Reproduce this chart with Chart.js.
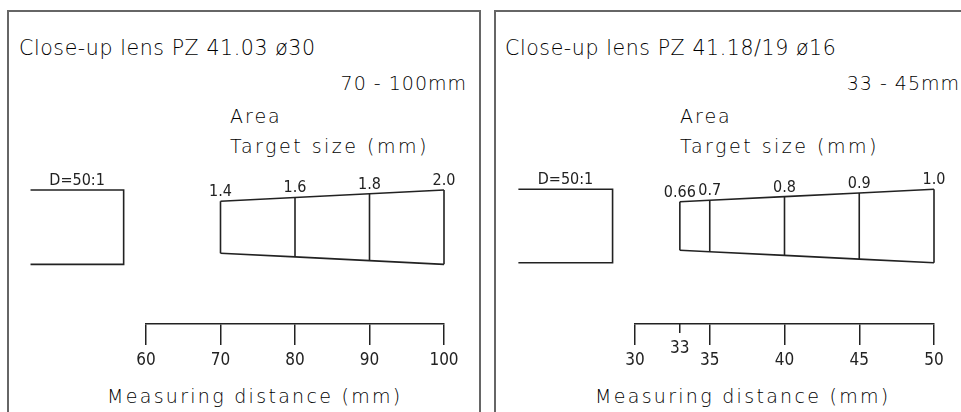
<!DOCTYPE html>
<html>
<head>
<meta charset="utf-8">
<script src="https://cdn.jsdelivr.net/npm/chart.js@4.4.1/dist/chart.umd.min.js"></script>
<style>
  body { margin: 0; background: #fff; }
  #wrap { position: relative; width: 961px; height: 412px; overflow: hidden; }
  .panel { position: absolute; top: 10px; height: 420px; border: 2px solid #666; box-sizing: border-box; }
  #p1 { left: 7px; width: 474px; }
  #p2 { left: 494px; width: 480px; }
  canvas { position: absolute; top: 0; }
  .txt { position: absolute; font-family: "DejaVu Sans"; font-weight: 200; color: #000; white-space: nowrap; line-height: 24px; font-size: 19px; }
</style>
</head>
<body>
<div id="wrap">
  <div class="panel" id="p1"></div>
  <div class="panel" id="p2"></div>

  <div class="txt" style="left:19px; top:36px; font-size:20.5px; letter-spacing:0.6px">Close-up lens PZ 41.03 ø30</div>
  <div class="txt" style="right:494px; top:71px; letter-spacing:1px">70 - 100mm</div>
  <div class="txt" style="left:230px; top:104px; letter-spacing:2px">Area</div>
  <div class="txt" style="left:230px; top:134px; letter-spacing:2.5px">Target size (mm)</div>
  <div class="txt" style="left:107px; top:384px; letter-spacing:2.3px">Measuring distance (mm)</div>

  <div class="txt" style="left:505px; top:36px; font-size:20.5px; letter-spacing:0.6px">Close-up lens PZ 41.18/19 ø16</div>
  <div class="txt" style="right:1px; top:71px; letter-spacing:1px">33 - 45mm</div>
  <div class="txt" style="left:680px; top:104px; letter-spacing:2px">Area</div>
  <div class="txt" style="left:680px; top:134px; letter-spacing:2.5px">Target size (mm)</div>
  <div class="txt" style="left:595px; top:384px; letter-spacing:2.3px">Measuring distance (mm)</div>

  <canvas id="c1" width="481" height="412" style="left:0"></canvas>
  <canvas id="c2" width="480" height="412" style="left:481px"></canvas>
</div>
<script>
// lens PZ 41.03 ø30
const dist1 = [70, 80, 90, 100];
const size1 = [1.4, 1.6, 1.8, 2.0];
const ticks1 = [60, 70, 80, 90, 100];
const sensor1 = [44.5, 57];

// lens PZ 41.18/19 ø16
const dist2 = [33, 35, 40, 45, 50];
const size2 = [0.66, 0.7, 0.8, 0.9, 1.0];
const ticks2 = [30, 35, 40, 45, 50];
const minorTicks2 = [33];
const sensor2 = [22.2, 28.5];

const ratioLabel = 'D=50:1';

const ink = '#222';
const digitFont = '"DejaVu Sans Condensed", "Liberation Sans Narrow", "DejaVu Sans"';

function fmt(v) {
  return v.toFixed(Math.round(v * 100) % 10 ? 2 : 1);
}

// top edge, bottom edge and the verticals of the target area
function areaSets(dist, size, sensor) {
  const top = dist.map((d, i) => ({x: d, y: size[i] / 2}));
  const bottom = dist.map((d, i) => ({x: d, y: -size[i] / 2}));
  const sides = [];
  dist.forEach((d, i) => {
    sides.push({x: d, y: -size[i] / 2}, {x: d, y: size[i] / 2}, {x: d, y: null});
  });
  const h = Math.max(...size) / 2;
  const box = [
    {x: sensor[0], y: h}, {x: sensor[1], y: h},
    {x: sensor[1], y: -h}, {x: sensor[0], y: -h}
  ];
  return [top, bottom, sides, box].map(d => ({data: d, clip: false}));
}

function labelPlugin(dist, size, sensor) {
  return {
    id: 'valueLabels',
    afterDatasetsDraw(chart) {
      const {ctx, scales: {x, y}} = chart;
      ctx.save();
      ctx.fillStyle = ink;
      ctx.font = '16px ' + digitFont;
      ctx.textAlign = 'center';
      ctx.textBaseline = 'alphabetic';
      dist.forEach((d, i) => {
        ctx.fillText(fmt(size[i]), x.getPixelForValue(d), y.getPixelForValue(size[i] / 2) - 5);
      });
      const h = Math.max(...size) / 2;
      const cx = (x.getPixelForValue(sensor[0]) + x.getPixelForValue(sensor[1])) / 2;
      ctx.fillText(ratioLabel, cx, y.getPixelForValue(h) - 5);
      ctx.restore();
    }
  };
}

function makeChart(id, o) {
  const scales = {
    x: {
      type: 'linear', min: o.ticks[0], max: o.ticks[o.ticks.length - 1],
      afterBuildTicks: s => { s.ticks = o.ticks.map(v => ({value: v})); },
      afterFit: s => { s.height = 88; },
      grid: {drawOnChartArea: false, tickLength: 21, color: ink, lineWidth: 1.5},
      border: {color: ink, width: 1.5},
      ticks: {color: ink, font: {family: digitFont, size: 17}, padding: 5, maxRotation: 0, autoSkip: false}
    },
    y: {type: 'linear', display: false, min: o.yMin, max: o.yMax}
  };
  if (o.minor) {
    scales.xm = {
      axis: 'x', type: 'linear', position: {y: o.yMin},
      min: o.ticks[0], max: o.ticks[o.ticks.length - 1],
      afterBuildTicks: s => { s.ticks = o.minor.map(v => ({value: v})); },
      grid: {drawOnChartArea: false, tickLength: 9, color: ink, lineWidth: 1.5},
      border: {display: false},
      ticks: {color: ink, font: {family: digitFont, size: 17}, padding: 5, maxRotation: 0, autoSkip: false}
    };
  }
  return new Chart(document.getElementById(id), {
    type: 'line',
    data: {datasets: areaSets(o.dist, o.size, o.sensor)},
    options: {
      responsive: false,
      animation: false,
      layout: {padding: {left: o.padL, right: o.padR, top: 0, bottom: 0}},
      plugins: {legend: {display: false}, tooltip: {enabled: false}},
      elements: {
        point: {radius: 0},
        line: {borderWidth: 1.6, borderColor: ink, tension: 0, fill: false}
      },
      scales: scales
    },
    plugins: [labelPlugin(o.dist, o.size, o.sensor)]
  });
}

makeChart('c1', {
  dist: dist1, size: size1, ticks: ticks1, sensor: sensor1,
  padL: 146, padR: 37, yMin: -2.606, yMax: 6.116
});
makeChart('c2', {
  dist: dist2, size: size2, ticks: ticks2, minor: minorTicks2, sensor: sensor2,
  padL: 154, padR: 27, yMin: -1.333, yMax: 3.075
});
</script>
</body>
</html>
